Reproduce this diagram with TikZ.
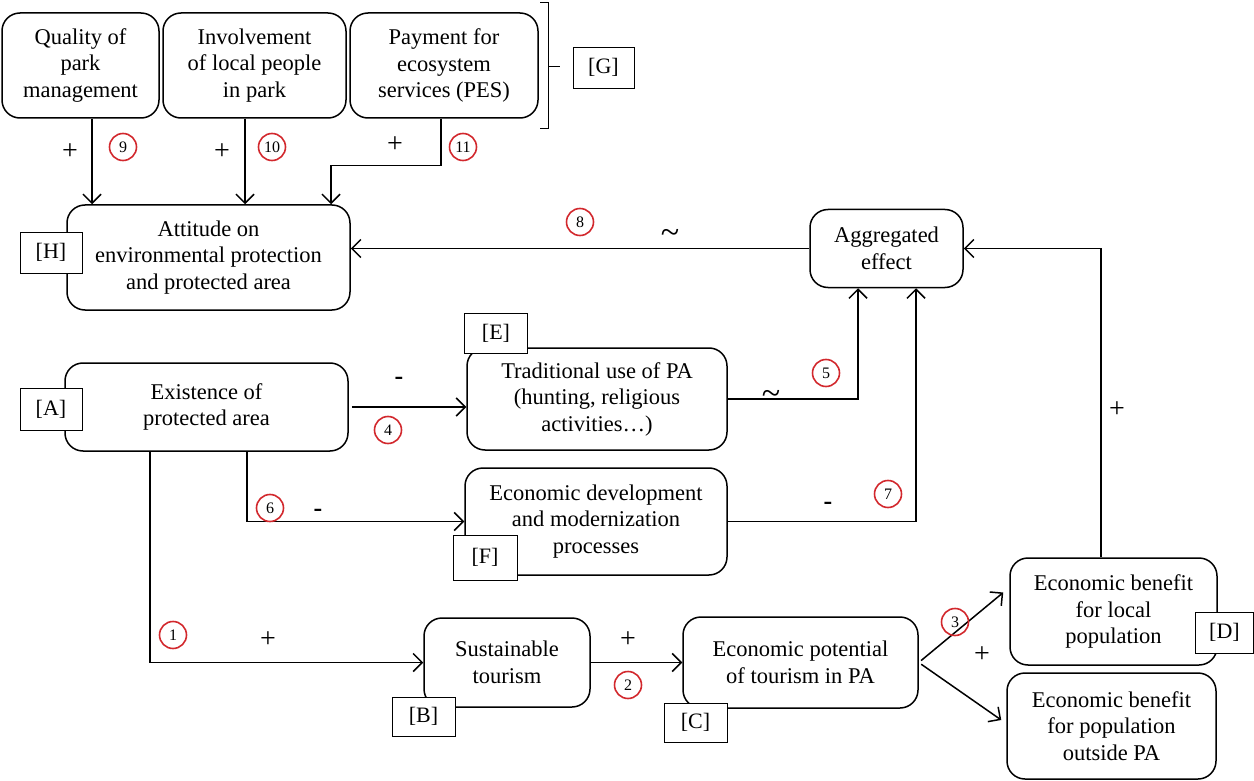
\documentclass[tikz,border=0pt]{standalone}
\usepackage{fontspec}
\setmainfont{Liberation Serif}
\usetikzlibrary{arrows.meta,calc}
\definecolor{numred}{RGB}{210,40,45}
\begin{document}
\begin{tikzpicture}[x=1pt,y=-1pt,
  box/.style={draw, rounded corners=18pt, line width=1.5pt, align=center, inner sep=0pt, fill=white,
    font=\fontsize{22.5}{26.5}\selectfont},
  tag/.style={draw, line width=0.8pt, fill=white, inner sep=0pt, font=\fontsize{22}{26}\selectfont},
  arr/.style={line width=1.5pt, -{Straight Barb[length=9pt,width=18pt,line width=1.5pt]}},
  num/.style={circle, draw=numred, line width=1.6pt, minimum size=27pt, inner sep=0pt,
    font=\fontsize{16}{16}\selectfont},
  sign/.style={inner sep=0pt, font=\fontsize{28}{28}\selectfont},
  tilde/.style={inner sep=0pt, font=\fontsize{34}{34}\selectfont},
  minus/.style={inner sep=0pt, font=\fontsize{26}{26}\bfseries}]
\useasboundingbox (0,0) rectangle (1254,781);
% main boxes
\node[box, minimum width=157pt, minimum height=105pt] (Q) at (80.5,65.5) {Quality of\\park\\management};
\node[box, minimum width=183pt, minimum height=105pt] (I) at (254.5,65.5) {Involvement\\of local people\\in park};
\node[box, minimum width=188pt, minimum height=105pt] (P) at (444,65.5) {Payment for\\ecosystem\\services (PES)};
\node[box, minimum width=283pt, minimum height=105pt] (H) at (208.5,257.5) {Attitude on\\environmental protection\\and protected area};
\node[box, minimum width=153pt, minimum height=78pt] (Agg) at (886.5,248.5) {Aggregated\\effect};
\node[box, minimum width=260pt, minimum height=102pt] (E) at (597,399) {Traditional use of PA\\(hunting, religious\\activities…)};
\node[box, minimum width=283pt, minimum height=88pt] (A) at (206.5,407) {Existence of\\protected area};
\node[box, minimum width=262pt, minimum height=107pt] (F) at (596,521.5) {Economic development\\and modernization\\processes};
\node[box, minimum width=166pt, minimum height=89pt] (B) at (507,662.5) {Sustainable\\tourism};
\node[box, minimum width=235pt, minimum height=91pt] (C) at (800.5,662.5) {Economic potential\\of tourism in PA};
\node[box, minimum width=207pt, minimum height=107pt] (D) at (1113.5,611.5) {Economic benefit\\for local\\population};
\node[box, minimum width=209pt, minimum height=106pt] (O) at (1111.5,726) {Economic benefit\\for population\\outside PA};
% tags
\node[tag, minimum width=61pt, minimum height=41pt] (tG) at (603.5,67.5) {[G]};
\node[tag, minimum width=62pt, minimum height=41pt] (tH) at (51,252.5) {[H]};
\node[tag, minimum width=63pt, minimum height=40pt] (tE) at (496,333) {[E]};
\node[tag, minimum width=62pt, minimum height=42pt] (tA) at (51,409) {[A]};
\node[tag, minimum width=64pt, minimum height=45pt] (tF) at (485,557.5) {[F]};
\node[tag, minimum width=63pt, minimum height=39pt] (tB) at (423.5,716.5) {[B]};
\node[tag, minimum width=63pt, minimum height=39pt] (tC) at (695.5,722.5) {[C]};
\node[tag, minimum width=58pt, minimum height=41pt] (tD) at (1224.5,632.5) {[D]};
% bracket
\coordinate (brT) at (540,2);
\coordinate (brB) at (540,128);
\coordinate (brM) at (548,66);
\draw[line width=0.8pt] (brT) -- ++(8,0) -- (548,128) -- (brB);
\draw[line width=0.8pt] (brM) -- ++(12,0);
% helper coordinates
\coordinate (x9) at (92,0);
\coordinate (x10) at (245,0);
\coordinate (x11a) at (441,0);
\coordinate (x11b) at (331,0);
\coordinate (x5) at (858,0);
\coordinate (x7) at (916,0);
\coordinate (xD) at (1101,0);
\coordinate (x6) at (247,0);
\coordinate (x1) at (150,0);
% connectors
\draw[arr] (Q.south -| x9) -- (H.north -| x9);
\draw[arr] (I.south -| x10) -- (H.north -| x10);
\draw[arr] (P.south -| x11a) -- ++(0,47) -| (H.north -| x11b);
\draw[arr] (Agg.west) -- (Agg.west -| H.east);
\draw[arr] (D.north -| xD) |- (Agg.east);
\draw[arr] (E.east) -| (Agg.south -| x5);
\draw[arr] (F.east) -| (Agg.south -| x7);
\draw[arr, shorten <=3pt] (A.east) -- (A.east -| E.west);
\draw[arr] (A.south -| x6) |- (F.west);
\draw[arr] (A.south -| x1) |- (B.west);
\draw[arr] (B.east) -- (C.west);
\draw[arr, shorten <=3pt] (C.east) -- ($(D.west)+(-6,-19)$);
\draw[arr, shorten <=3pt] (C.east) -- ($(O.west)+(-5,-6)$);
% signs
\node[sign] (s9) at (70,152) {+};
\node[sign] (s10) at (222,152) {+};
\node[sign] (s11) at (395,145) {+};
\node[tilde] (s8) at (670,236) {\textasciitilde};
\node[sign] (sD) at (1117,410) {+};
\node[tilde] (s5) at (771,397) {\textasciitilde};
\node[minus] (s7) at (828,506) {-};
\node[minus] (s4) at (399,381) {-};
\node[minus] (s6) at (318,513) {-};
\node[sign] (s1) at (268,640) {+};
\node[sign] (s2) at (628,640) {+};
\node[sign] (s3) at (982,655) {+};
% numbers
\node[num] (n9) at (123,147) {9};
\node[num] (n10) at (272,147) {10};
\node[num] (n11) at (463,147) {11};
\node[num] (n8) at (580,222) {8};
\node[num] (n5) at (826,373) {5};
\node[num] (n7) at (888,494) {7};
\node[num] (n4) at (388,430) {4};
\node[num] (n6) at (270,508) {6};
\node[num] (n1) at (173,635) {1};
\node[num] (n2) at (628,685) {2};
\node[num] (n3) at (955,622) {3};
\end{tikzpicture}
\end{document}
